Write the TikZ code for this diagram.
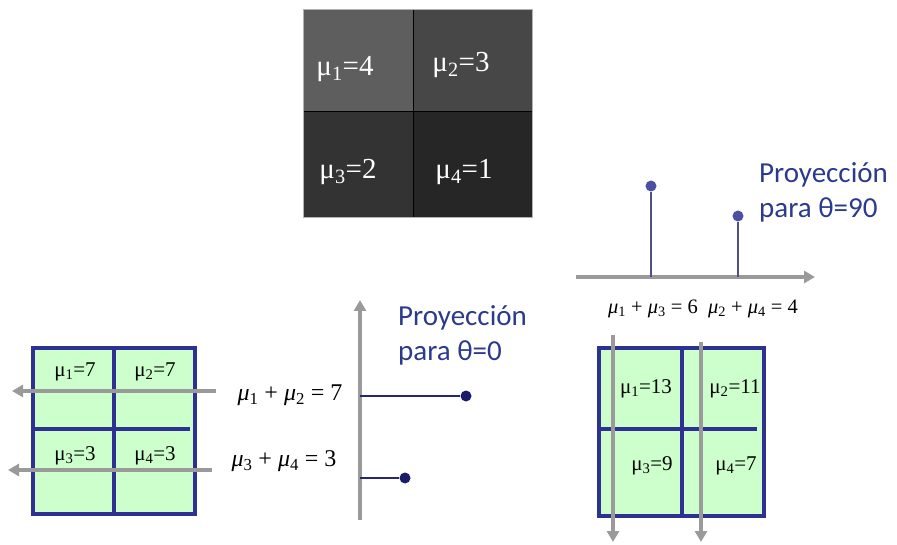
\documentclass[tikz,border=0pt]{standalone}
\usepackage{fontspec}
\setmainfont{Liberation Serif}
\newfontfamily\calib{Carlito}
\usetikzlibrary{arrows.meta}
\definecolor{navy}{HTML}{2E3192}
\definecolor{dotnavy}{HTML}{1B1B6B}
\definecolor{cellgreen}{HTML}{CCFFCC}
\definecolor{arrgray}{HTML}{9A9A9A}
\definecolor{txtblue}{HTML}{2B3A8C}
\tikzset{
  garrow/.style={draw=arrgray,line width=4pt,-{Triangle[length=11pt,width=12pt]}},
  gridline/.style={draw=navy,line width=3.6pt},
  stem/.style={draw=navy!80!black,line width=1.3pt},
  dotn/.style={circle,fill=dotnavy,inner sep=0pt,minimum size=11pt},
  dotr/.style={circle,fill=navy!85,inner sep=0pt,minimum size=11pt},
  celltxt/.style={font=\fontsize{21}{24}\selectfont,inner sep=0pt},
  toptxt/.style={font=\fontsize{29}{33}\selectfont,text=white,inner sep=0pt},
  eqtxt/.style={font=\fontsize{24}{28}\selectfont,inner sep=0pt},
  eqsmall/.style={font=\fontsize{20.5}{24}\selectfont,inner sep=0pt},
  projtxt/.style={font=\calib\fontsize{29}{35}\selectfont,text=txtblue,align=left,inner sep=0pt,anchor=north west}
}
\newcommand{\mi}[1]{{\itshape μ}\textsubscript{#1}}
\begin{document}
\begin{tikzpicture}[x=1pt,y=-1pt]
\useasboundingbox (0,0) rectangle (897,545);
% top gray grid
\fill[white!37!black] (303,9) rectangle (413,112);
\fill[white!28!black] (413,9) rectangle (532,112);
\fill[white!20!black] (303,112) rectangle (413,217);
\fill[white!15!black] (413,112) rectangle (532,217);
\draw[black,line width=1pt] (413,9) -- (413,217) (303,112) -- (532,112);
\draw[gray!60,line width=0.8pt] (303,9) rectangle (532,217);
\node[toptxt] (t1) at (345,69) {μ\textsubscript{1}=4};
\node[toptxt] (t2) at (461,65) {μ\textsubscript{2}=3};
\node[toptxt] (t3) at (348,172) {μ\textsubscript{3}=2};
\node[toptxt] (t4) at (464,172) {μ\textsubscript{4}=1};

% left green grid
\fill[cellgreen] (33,348) rectangle (195,514);
\draw[gridline] (33,348) rectangle (195,514);
\draw[gridline] (114,348) -- (114,514);
\draw[gridline] (33,429) -- (190,429);
\node[celltxt] (l1) at (75,372) {μ\textsubscript{1}=7};
\node[celltxt] (l2) at (155,372) {μ\textsubscript{2}=7};
\node[celltxt] (l3) at (75,456) {μ\textsubscript{3}=3};
\node[celltxt] (l4) at (155,456) {μ\textsubscript{4}=3};
\coordinate (la1s) at (216,391);
\coordinate (la1e) at (12,391);
\coordinate (la2s) at (212,470);
\coordinate (la2e) at (8,470);
\draw[garrow] (la1s) -- (la1e);
\draw[garrow] (la2s) -- (la2e);
\node[eqtxt] (e12) at (290,395) {\mi{1} + \mi{2} = 7};
\node[eqtxt] (e34) at (284,461) {\mi{3} + \mi{4} = 3};

% left projection axis
\coordinate (ax0) at (360,520);
\coordinate (ax1) at (360,300);
\draw[garrow,line width=3.5pt] (ax0) -- (ax1);
\node[dotn] (d1) at (466,396) {};
\node[dotn] (d2) at (405,478) {};
\draw[stem] (360,396) -- (d1);
\draw[stem] (360,478) -- (d2);
\node[projtxt] (p0) at (398,305) {Proyección\\para θ=0};

% right projection axis
\coordinate (bx0) at (576,277);
\coordinate (bx1) at (815,277);
\draw[garrow,line width=3.5pt] (bx0) -- (bx1);
\node[dotr] (r1) at (651,186) {};
\node[dotr] (r2) at (738,216) {};
\draw[stem,draw=navy!60!gray] (651,277) -- (r1);
\draw[stem,draw=navy!60!gray] (738,277) -- (r2);
\node[projtxt] (p90) at (759,162) {Proyección\\para θ=90};
\node[eqsmall] (e13) at (653,309) {\mi{1} + \mi{3} = 6};
\node[eqsmall] (e24) at (753,309) {\mi{2} + \mi{4} = 4};

% right green grid
\fill[cellgreen] (599,348) rectangle (764,516);
\draw[gridline] (599,348) rectangle (764,516);
\draw[gridline] (682,348) -- (682,516);
\draw[gridline] (599,429) -- (757,429);
\node[celltxt] (r11) at (646,389) {μ\textsubscript{1}=13};
\node[celltxt] (r12) at (735,389) {μ\textsubscript{2}=11};
\node[celltxt] (r13) at (652,466) {μ\textsubscript{3}=9};
\node[celltxt] (r14) at (736,466) {μ\textsubscript{4}=7};
\coordinate (ra1s) at (613,335);
\coordinate (ra1e) at (613,542);
\coordinate (ra2s) at (701,342);
\coordinate (ra2e) at (701,542);
\draw[garrow] (ra1s) -- (ra1e);
\draw[garrow] (ra2s) -- (ra2e);
\end{tikzpicture}
\end{document}
